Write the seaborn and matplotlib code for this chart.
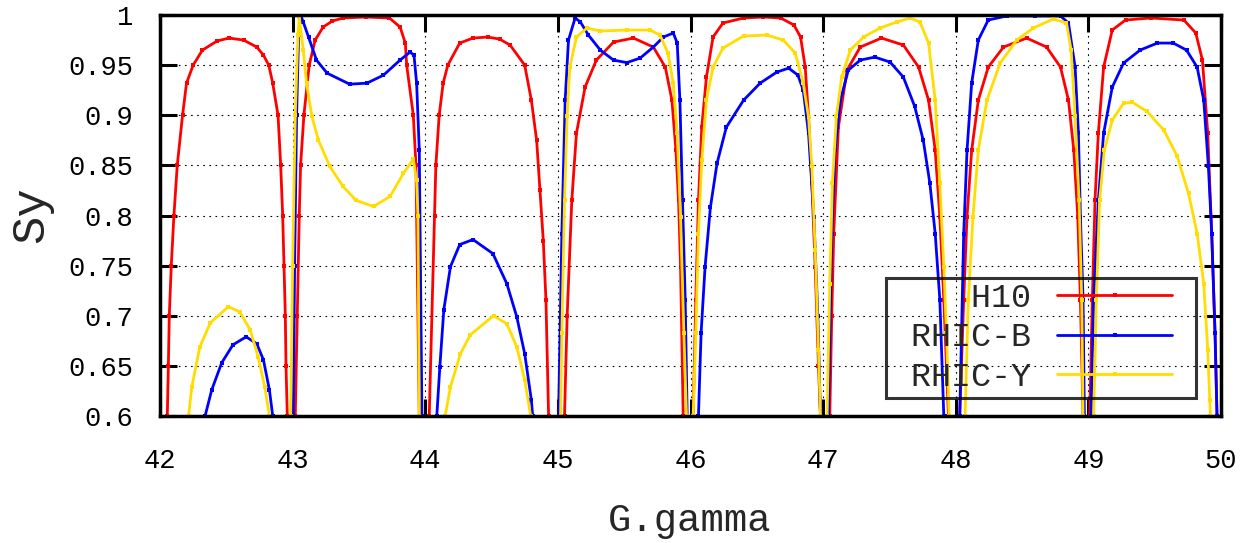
import numpy as np
import pandas as pd
import matplotlib
matplotlib.use("Agg")
import matplotlib.pyplot as plt
from matplotlib.lines import Line2D
from matplotlib.legend_handler import HandlerLine2D
import seaborn as sns

# values, one list per branch of each curve
h10_x = [
    [42.055, 42.063, 42.07, 42.085, 42.105, 42.13, 42.17, 42.20, 42.25, 42.32, 42.43, 42.52, 42.63, 42.73, 42.78, 42.82, 42.85, 42.89, 42.91, 42.925, 42.935, 42.945, 42.95, 42.96],
    [43.02, 43.035, 43.05, 43.06, 43.085, 43.125, 43.17, 43.23, 43.30, 43.38, 43.55, 43.73, 43.81, 43.85, 43.86, 43.91, 43.93, 43.935, 43.955],
    [44.03, 44.07, 44.08, 44.105, 44.135, 44.17, 44.26, 44.36, 44.47, 44.56, 44.64, 44.75, 44.80, 44.84, 44.865, 44.89, 44.91, 44.93],
    [45.05, 45.07, 45.105, 45.14, 45.205, 45.29, 45.42, 45.57, 45.72, 45.81, 45.86, 45.89, 45.91, 45.925, 45.945],
    [46.02, 46.04, 46.06, 46.085, 46.12, 46.17, 46.245, 46.40, 46.55, 46.68, 46.78, 46.83, 46.865, 46.89, 46.915, 46.94, 46.965, 46.98],
    [47.05, 47.065, 47.08, 47.115, 47.18, 47.28, 47.44, 47.605, 47.72, 47.795, 47.845, 47.88, 47.91, 47.945],
    [48.03, 48.06, 48.085, 48.12, 48.17, 48.245, 48.36, 48.535, 48.685, 48.79, 48.85, 48.89, 48.92, 48.94, 48.96],
    [49.01, 49.03, 49.05, 49.075, 49.115, 49.18, 49.28, 49.47, 49.72, 49.81, 49.86, 49.90, 49.93, 49.955, 49.97],
]
h10_y = [
    [0.60, 0.65, 0.70, 0.75, 0.80, 0.85, 0.90, 0.932, 0.95, 0.965, 0.974, 0.977, 0.975, 0.968, 0.96, 0.95, 0.932, 0.90, 0.85, 0.80, 0.75, 0.70, 0.65, 0.60],
    [0.60, 0.70, 0.80, 0.85, 0.90, 0.95, 0.975, 0.988, 0.994, 0.997, 0.998, 0.997, 0.988, 0.972, 0.95, 0.90, 0.85, 0.80, 0.60],
    [0.60, 0.80, 0.85, 0.90, 0.932, 0.95, 0.972, 0.977, 0.978, 0.976, 0.97, 0.95, 0.915, 0.875, 0.825, 0.775, 0.716, 0.60],
    [0.60, 0.70, 0.815, 0.882, 0.928, 0.955, 0.973, 0.977, 0.968, 0.948, 0.915, 0.865, 0.815, 0.749, 0.60],
    [0.60, 0.716, 0.815, 0.888, 0.938, 0.978, 0.992, 0.997, 0.998, 0.997, 0.99, 0.978, 0.948, 0.898, 0.832, 0.749, 0.65, 0.60],
    [0.60, 0.70, 0.782, 0.888, 0.945, 0.968, 0.977, 0.97, 0.948, 0.915, 0.865, 0.799, 0.716, 0.60],
    [0.60, 0.716, 0.799, 0.865, 0.915, 0.948, 0.968, 0.977, 0.968, 0.948, 0.915, 0.865, 0.799, 0.716, 0.60],
    [0.60, 0.716, 0.815, 0.882, 0.948, 0.985, 0.995, 0.997, 0.995, 0.982, 0.955, 0.882, 0.782, 0.683, 0.60],
]

rhicb_x = [
    [42.34, 42.39, 42.465, 42.55, 42.65, 42.73, 42.78, 42.825, 42.85],
    [43.005, 43.015, 43.03, 43.045, 43.06, 43.08, 43.12, 43.18, 43.26, 43.43, 43.56, 43.685, 43.81, 43.885, 43.915, 43.935, 43.955, 43.975],
    [44.087, 44.11, 44.14, 44.19, 44.26, 44.36, 44.51, 44.615, 44.69, 44.75, 44.80, 44.81],
    [45.005, 45.03, 45.055, 45.08, 45.13, 45.17, 45.23, 45.32, 45.42, 45.52, 45.62, 45.72, 45.795, 45.87, 45.90, 45.92, 45.94, 45.96, 45.975],
    [46.06, 46.08, 46.11, 46.15, 46.20, 46.27, 46.40, 46.525, 46.65, 46.74, 46.81, 46.85, 46.89, 46.93, 46.96, 46.98],
    [47.04, 47.065, 47.09, 47.13, 47.19, 47.28, 47.39, 47.505, 47.605, 47.69, 47.755, 47.805, 47.845, 47.88, 47.91],
    [48.03, 48.06, 48.085, 48.12, 48.17, 48.245, 48.385, 48.60, 48.79, 48.85, 48.90, 48.925, 48.94, 48.96, 48.97],
    [49.02, 49.04, 49.075, 49.115, 49.18, 49.265, 49.39, 49.52, 49.64, 49.74, 49.82, 49.87, 49.905, 49.93, 49.955, 49.97],
]
rhicb_y = [
    [0.60, 0.626, 0.653, 0.671, 0.679, 0.672, 0.656, 0.626, 0.60],
    [0.60, 0.75, 0.90, 0.98, 1.0, 0.993, 0.978, 0.955, 0.942, 0.931, 0.932, 0.94, 0.955, 0.963, 0.96, 0.932, 0.865, 0.60],
    [0.60, 0.649, 0.706, 0.749, 0.771, 0.776, 0.762, 0.732, 0.699, 0.662, 0.616, 0.60],
    [0.60, 0.782, 0.915, 0.975, 0.997, 0.993, 0.98, 0.965, 0.955, 0.9525, 0.957, 0.968, 0.978, 0.982, 0.972, 0.915, 0.815, 0.716, 0.60],
    [0.60, 0.683, 0.749, 0.808, 0.852, 0.888, 0.915, 0.932, 0.943, 0.947, 0.94, 0.925, 0.882, 0.799, 0.70, 0.60],
    [0.60, 0.782, 0.865, 0.915, 0.945, 0.955, 0.958, 0.953, 0.938, 0.909, 0.875, 0.832, 0.782, 0.716, 0.60],
    [0.60, 0.782, 0.865, 0.932, 0.975, 0.995, 0.999, 0.999, 0.999, 0.992, 0.948, 0.882, 0.799, 0.716, 0.60],
    [0.60, 0.716, 0.815, 0.882, 0.928, 0.952, 0.965, 0.972, 0.972, 0.965, 0.948, 0.915, 0.849, 0.782, 0.683, 0.60],
]

rhicy_x = [
    [42.215, 42.24, 42.30, 42.38, 42.515, 42.60, 42.68, 42.74, 42.79, 42.825],
    [42.985, 43.0, 43.02, 43.04, 43.05, 43.08, 43.105, 43.145, 43.195, 43.28, 43.38, 43.48, 43.61, 43.735, 43.835, 43.91, 43.935, 43.945, 43.955],
    [44.15, 44.19, 44.265, 44.34, 44.515, 44.615, 44.69, 44.75, 44.795],
    [45.02, 45.03, 45.05, 45.07, 45.09, 45.14, 45.22, 45.32, 45.52, 45.695, 45.77, 45.83, 45.87, 45.90, 45.925, 45.95, 45.97],
    [46.02, 46.04, 46.06, 46.085, 46.12, 46.17, 46.245, 46.40, 46.575, 46.70, 46.79, 46.85, 46.89, 46.915, 46.94, 46.965, 46.98],
    [47.03, 47.05, 47.07, 47.10, 47.14, 47.205, 47.305, 47.43, 47.555, 47.655, 47.73, 47.795, 47.845, 47.88, 47.91, 47.93, 47.95],
    [48.07, 48.095, 48.13, 48.17, 48.235, 48.335, 48.46, 48.585, 48.735, 48.835, 48.87, 48.90, 48.93, 48.95, 48.96],
    [49.04, 49.06, 49.085, 49.12, 49.18, 49.265, 49.33, 49.44, 49.57, 49.67, 49.755, 49.82, 49.87, 49.90, 49.915, 49.92],
]
rhicy_y = [
    [0.60, 0.629, 0.669, 0.693, 0.709, 0.704, 0.686, 0.659, 0.629, 0.60],
    [0.60, 0.75, 0.90, 0.98, 0.998, 0.965, 0.932, 0.899, 0.875, 0.849, 0.829, 0.815, 0.809, 0.819, 0.842, 0.856, 0.835, 0.80, 0.60],
    [0.60, 0.629, 0.662, 0.681, 0.70, 0.692, 0.669, 0.636, 0.60],
    [0.60, 0.683, 0.815, 0.899, 0.948, 0.978, 0.987, 0.984, 0.985, 0.985, 0.98, 0.962, 0.932, 0.882, 0.799, 0.683, 0.60],
    [0.60, 0.683, 0.782, 0.855, 0.915, 0.948, 0.967, 0.979, 0.98, 0.975, 0.962, 0.932, 0.898, 0.849, 0.766, 0.666, 0.60],
    [0.60, 0.732, 0.832, 0.899, 0.938, 0.965, 0.978, 0.987, 0.993, 0.997, 0.993, 0.972, 0.915, 0.832, 0.749, 0.683, 0.60],
    [0.60, 0.716, 0.799, 0.865, 0.915, 0.952, 0.975, 0.987, 0.996, 0.992, 0.965, 0.899, 0.815, 0.716, 0.60],
    [0.60, 0.716, 0.815, 0.865, 0.895, 0.912, 0.913, 0.904, 0.885, 0.859, 0.822, 0.782, 0.732, 0.666, 0.616, 0.60],
]

series = ["H10", "RHIC-B", "RHIC-Y"]
colors = ["#ff0000", "#0000ff", "#ffdd00"]
x_ticks = [42, 43, 44, 45, 46, 47, 48, 49, 50]
y_ticks = [0.6, 0.65, 0.7, 0.75, 0.8, 0.85, 0.9, 0.95, 1.0]
y_tick_labels = ["0.6", "0.65", "0.7", "0.75", "0.8", "0.85", "0.9", "0.95", "1"]

rows = []
for name, xs, ys in zip(series, [h10_x, rhicb_x, rhicy_x], [h10_y, rhicb_y, rhicy_y]):
    for k, (sx, sy) in enumerate(zip(xs, ys)):
        for a, b in zip(sx, sy):
            rows.append((name, k, a, b))
df = pd.DataFrame(rows, columns=["series", "seg", "G.gamma", "Sy"])

sns.set_style("ticks")
plt.rcParams["font.family"] = ["Liberation Mono", "DejaVu Sans Mono"]

fig = plt.figure(figsize=(12.53, 5.43), dpi=100)
ax = fig.add_axes([160 / 1253, 1 - 416 / 543, 1061 / 1253, 401 / 543])

sns.lineplot(data=df, x="G.gamma", y="Sy", hue="series", units="seg",
             estimator=None, sort=False, palette=colors, hue_order=series,
             marker="s", markersize=3, markeredgewidth=0, linewidth=2, ax=ax)

ax.set_xlim(42, 50)
ax.set_ylim(0.6, 1.0)
ax.set_xticks(x_ticks)
ax.set_xticklabels([str(t) for t in x_ticks])
ax.set_yticks(y_ticks)
ax.set_yticklabels(y_tick_labels)
ax.tick_params(direction="in", length=12, width=2.2, top=True, right=True,
               labelsize=19.5, colors="black")
ax.tick_params(axis="x", pad=23)
ax.tick_params(axis="y", pad=19)
ax.grid(True, color="black", linestyle=(0, (1.5, 4)), linewidth=0.8)
for s in ax.spines.values():
    s.set_linewidth(2.5)
    s.set_color("black")

ax.set_xlabel("G.gamma", fontsize=28)
ax.set_ylabel("Sy", fontsize=34)
ax.xaxis.set_label_coords(0.4995, -0.218)
ax.yaxis.set_label_coords(-0.101, 0.501)


# legend sample line stops short of the handle box, leaving room on the right
class ShortLine(HandlerLine2D):
    def create_artists(self, legend, orig_handle, xdescent, ydescent, width, height, fontsize, trans):
        return super().create_artists(legend, orig_handle, xdescent, ydescent,
                                      width - 0.56 * fontsize, height, fontsize, trans)


handles, labels = ax.get_legend_handles_labels()
leg = ax.legend(handles, [l.rjust(7) for l in labels], markerfirst=False,
                loc="lower right", bbox_to_anchor=(0.9764, 0.045), borderaxespad=0,
                fancybox=False, edgecolor="black", facecolor="none", framealpha=None,
                fontsize=24, handlelength=4.0, handletextpad=0.78, labelspacing=0.25,
                borderpad=0.16, handler_map={Line2D: ShortLine()})
leg.get_frame().set_linewidth(2.2)

fig.savefig("out.png", dpi=100)
